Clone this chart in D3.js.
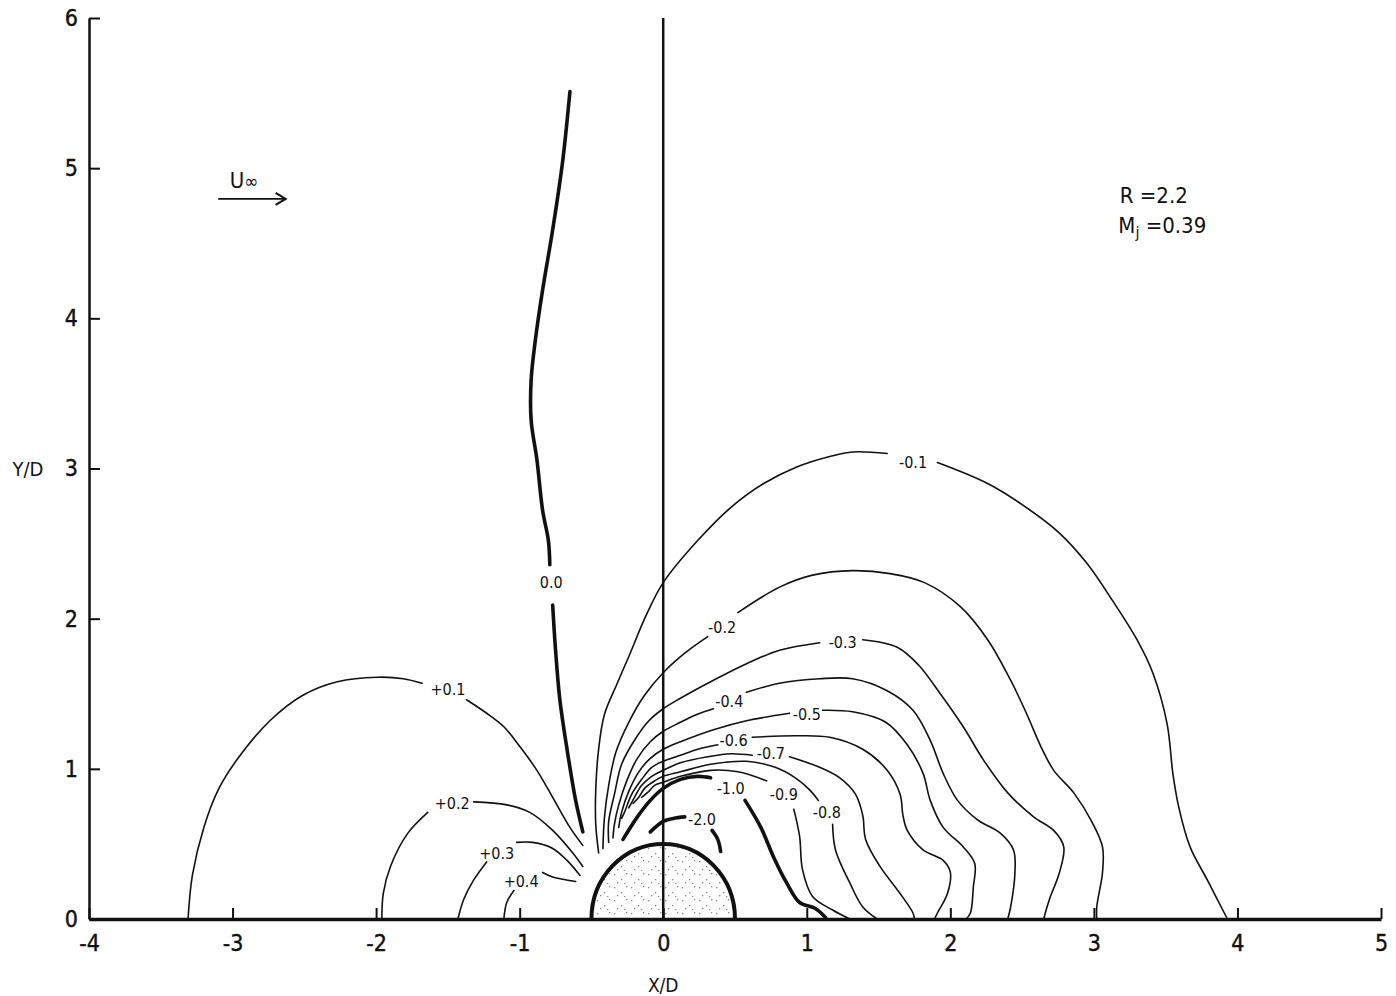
<!DOCTYPE html>
<html>
<head>
<meta charset="utf-8">
<script src="https://cdn.jsdelivr.net/npm/d3@7"></script>
<style>
  body { margin: 0; background: #fff; }
  svg { display: block; }
  text { font-family: "DejaVu Sans Condensed", "Liberation Sans Narrow", sans-serif; font-stretch: condensed; fill: #111; }
</style>
</head>
<body>
<svg id="chart" width="1396" height="996"></svg>
<script>
// axis ticks
const xTicks = [-4, -3, -2, -1, 0, 1, 2, 3, 4, 5];
const yTicks = [0, 1, 2, 3, 4, 5, 6];

// body (hemisphere) radius in X/D
const bodyRadius = 0.5;

// contour lines, each as segments (split where the label sits), in X/D, Y/D
const cZero = [
  [[-0.65,5.51],[-0.70,5.05],[-0.77,4.59],[-0.84,4.19],[-0.89,3.86],[-0.92,3.59],[-0.92,3.32],[-0.88,3.06],[-0.84,2.72],[-0.80,2.52],[-0.79,2.36]],
  [[-0.77,2.09],[-0.75,1.79],[-0.72,1.46],[-0.67,1.13],[-0.61,0.79],[-0.56,0.58]]
];
const cPos1 = [
  [[-3.31,0],[-3.28,0.29],[-3.20,0.61],[-3.10,0.86],[-2.97,1.06],[-2.74,1.32],[-2.51,1.49],[-2.27,1.58],[-1.99,1.61],[-1.81,1.60],[-1.68,1.57]],
  [[-1.37,1.46],[-1.23,1.37],[-1.11,1.28],[-1.00,1.15],[-0.88,0.99],[-0.77,0.81],[-0.65,0.61],[-0.56,0.49]]
];
const cPos2 = [
  [[-1.96,0],[-1.95,0.17],[-1.90,0.35],[-1.78,0.57],[-1.64,0.71]],
  [[-1.32,0.78],[-1.09,0.76],[-0.93,0.71],[-0.77,0.59],[-0.63,0.44],[-0.56,0.35]]
];
const cPos3 = [
  [[-1.43,0],[-1.39,0.13],[-1.32,0.26],[-1.23,0.38]],
  [[-1.02,0.51],[-0.91,0.51],[-0.77,0.47],[-0.67,0.39],[-0.58,0.29]]
];
const cPos4 = [
  [[-1.11,0],[-1.09,0.11],[-1.04,0.19]],
  [[-0.84,0.31],[-0.77,0.28],[-0.61,0.25]]
];
const cNeg1 = [
  [[-0.45,0.44],[-0.47,0.63],[-0.47,0.86],[-0.45,1.13],[-0.41,1.36],[-0.32,1.57],[-0.23,1.77],[-0.12,2.02],[0,2.24],[0.24,2.52],[0.47,2.74],[0.70,2.90],[0.93,3.01],[1.16,3.08],[1.32,3.11],[1.56,3.10]],
  [[1.91,3.04],[2.26,2.90],[2.53,2.74],[2.76,2.57],[2.95,2.37],[3.13,2.12],[3.30,1.86],[3.41,1.64],[3.51,1.30],[3.55,0.97],[3.59,0.75],[3.67,0.48],[3.79,0.26],[3.93,0]]
];
const cNeg2 = [
  [[-0.42,0.47],[-0.41,0.67],[-0.38,0.89],[-0.33,1.11],[-0.24,1.31],[-0.13,1.49],[0,1.64],[0.15,1.77],[0.31,1.88]],
  [[0.52,2.04],[0.81,2.21],[1.04,2.29],[1.32,2.32],[1.58,2.30],[1.82,2.24],[2.07,2.08],[2.26,1.86],[2.42,1.59],[2.53,1.37],[2.63,1.15],[2.72,0.99],[2.86,0.84],[2.99,0.64],[3.06,0.48],[3.06,0.31],[3.02,0.08],[3.02,0]]
];
const cNeg3 = [
  [[-0.38,0.51],[-0.38,0.65],[-0.34,0.83],[-0.29,1.03],[-0.20,1.19],[-0.10,1.32],[0,1.40],[0.12,1.47],[0.35,1.59],[0.58,1.70],[0.81,1.79],[1.09,1.84]],
  [[1.39,1.86],[1.63,1.81],[1.78,1.69],[1.93,1.50],[2.09,1.28],[2.23,1.06],[2.40,0.84],[2.58,0.68],[2.72,0.59],[2.79,0.48],[2.76,0.31],[2.69,0.13],[2.65,0]]
];
const cNeg4 = [
  [[-0.35,0.54],[-0.34,0.63],[-0.31,0.76],[-0.25,0.93],[-0.18,1.07],[-0.09,1.18],[0,1.25],[0.12,1.31],[0.23,1.36],[0.35,1.40]],
  [[0.58,1.51],[0.81,1.57],[1.09,1.60],[1.32,1.60],[1.56,1.52],[1.74,1.39],[1.86,1.19],[1.95,0.97],[2.05,0.79],[2.19,0.66],[2.35,0.57],[2.44,0.46],[2.45,0.31],[2.42,0.08],[2.40,0]]
];
const cNeg5 = [
  [[-0.31,0.61],[-0.29,0.71],[-0.24,0.85],[-0.17,0.98],[-0.09,1.07],[0,1.13],[0.12,1.18],[0.35,1.26],[0.58,1.32],[0.88,1.37]],
  [[1.11,1.39],[1.32,1.38],[1.55,1.31],[1.70,1.16],[1.81,0.97],[1.86,0.79],[1.95,0.61],[2.09,0.48],[2.17,0.37],[2.16,0.21],[2.14,0.04],[2.11,0]]
];
const cNeg6 = [
  [[-0.29,0.67],[-0.27,0.71],[-0.22,0.83],[-0.15,0.93],[-0.08,1.01],[0,1.05],[0.12,1.09],[0.24,1.13],[0.38,1.16]],
  [[0.62,1.21],[0.93,1.22],[1.16,1.21],[1.39,1.13],[1.56,0.99],[1.65,0.83],[1.67,0.69],[1.70,0.59],[1.81,0.46],[1.95,0.39],[2.00,0.31],[1.98,0.17],[1.91,0.04],[1.89,0]]
];
const cNeg7 = [
  [[-0.24,0.74],[-0.20,0.81],[-0.15,0.89],[-0.08,0.95],[0,0.99],[0.12,1.04],[0.31,1.08],[0.47,1.10],[0.62,1.09]],
  [[0.88,1.08],[1.09,1.01],[1.23,0.94],[1.34,0.83],[1.39,0.69],[1.41,0.53],[1.51,0.35],[1.65,0.17],[1.74,0.04],[1.75,0]]
];
const cNeg8 = [
  [[-0.21,0.77],[-0.17,0.81],[-0.13,0.87],[-0.06,0.92],[0,0.95],[0.12,0.98],[0.33,1.03],[0.58,1.05],[0.78,1.01],[0.92,0.94],[1.02,0.86],[1.08,0.79]],
  [[1.18,0.63],[1.20,0.46],[1.30,0.24],[1.39,0.08],[1.49,0]]
];
const cNeg9 = [
  [[-0.15,0.81],[-0.10,0.85],[-0.06,0.89],[0,0.91],[0.12,0.95],[0.33,0.99],[0.52,0.98],[0.72,0.92]],
  [[0.91,0.73],[0.95,0.55],[0.97,0.33],[1.04,0.15],[1.18,0.06],[1.30,0]]
];
const cNeg10 = [
  [[-0.28,0.53],[-0.18,0.68],[-0.09,0.79],[0,0.87],[0.12,0.93],[0.24,0.95],[0.33,0.94]],
  [[0.57,0.79],[0.68,0.61],[0.77,0.41],[0.86,0.24],[0.95,0.11],[1.06,0.07],[1.13,0.01]]
];
const cNeg20 = [
  [[-0.09,0.58],[0,0.65],[0.07,0.67],[0.15,0.68]],
  [[0.34,0.59],[0.38,0.53],[0.40,0.45]]
];

const contourLabels = ["0.0", "+0.1", "+0.2", "+0.3", "+0.4", "-0.1", "-0.2", "-0.3", "-0.4", "-0.5", "-0.6", "-0.7", "-0.8", "-0.9", "-1.0", "-2.0"];
const contourLines = [cZero, cPos1, cPos2, cPos3, cPos4, cNeg1, cNeg2, cNeg3, cNeg4, cNeg5, cNeg6, cNeg7, cNeg8, cNeg9, cNeg10, cNeg20];
const labelPos = [[-0.78,2.24],[-1.50,1.53],[-1.47,0.77],[-1.16,0.44],[-0.99,0.25],[1.74,3.04],[0.41,1.94],[1.25,1.84],[0.46,1.45],[1.00,1.36],[0.49,1.19],[0.75,1.10],[1.14,0.71],[0.84,0.83],[0.47,0.87],[0.27,0.66]];
const heavyLevels = ["0.0", "-1.0", "-2.0"];

const svg = d3.select("#chart");
const x = d3.scaleLinear().domain([-4, 5]).range([89, 1381]);
const y = d3.scaleLinear().domain([0, 6]).range([919, 18]);

// stipple pattern for the body
const defs = svg.append("defs");
const pat = defs.append("pattern")
  .attr("id", "stipple")
  .attr("patternUnits", "userSpaceOnUse")
  .attr("width", 17).attr("height", 13);
[[2,3],[9,8],[14,2],[5,11],[12,12]].forEach(p => {
  pat.append("rect").attr("x", p[0]).attr("y", p[1]).attr("width", 1.3).attr("height", 1.3).attr("fill", "#888");
});

const line = d3.line()
  .x(d => x(d[0]))
  .y(d => y(d[1]))
  .curve(d3.curveCatmullRom.alpha(0.5));

// body
const rx = x(bodyRadius) - x(0);
const ry = y(0) - y(bodyRadius);
svg.append("path")
  .attr("d", `M${x(-bodyRadius)},${y(0)} A${rx},${ry} 0 0 1 ${x(bodyRadius)},${y(0)} Z`)
  .attr("fill", "url(#stipple)")
  .attr("stroke", "none");
svg.append("path")
  .attr("d", `M${x(-bodyRadius)},${y(0)} A${rx},${ry} 0 0 1 ${x(bodyRadius)},${y(0)}`)
  .attr("fill", "none")
  .attr("stroke", "#111")
  .attr("stroke-width", 4);

// x = 0 line
svg.append("line")
  .attr("x1", x(0)).attr("x2", x(0))
  .attr("y1", y(0)).attr("y2", y(6))
  .attr("stroke", "#111").attr("stroke-width", 2.5);

// contours
const cg = svg.append("g").attr("fill", "none").attr("stroke", "#111").attr("stroke-linecap", "round");
contourLines.forEach((segs, i) => {
  const heavy = heavyLevels.includes(contourLabels[i]);
  segs.forEach(seg => {
    cg.append("path")
      .attr("d", line(seg))
      .attr("stroke-width", heavy ? 3.6 : 1.6);
  });
});

svg.append("g").selectAll("text")
  .data(contourLabels)
  .join("text")
  .attr("x", (d, i) => x(labelPos[i][0]))
  .attr("y", (d, i) => y(labelPos[i][1]))
  .attr("dy", "0.35em")
  .attr("text-anchor", "middle")
  .style("font-size", "16px")
  .text(d => d);

// axes
const yAxis = svg.append("g")
  .attr("transform", `translate(${x(-4)},0)`)
  .call(d3.axisLeft(y).tickValues(yTicks).tickFormat(d => String(d)).tickSizeInner(-11).tickSizeOuter(0).tickPadding(11));
yAxis.select(".domain").attr("stroke", "#111").attr("stroke-width", 2.5);
yAxis.selectAll(".tick line").attr("stroke", "#111").attr("stroke-width", 2);
yAxis.selectAll(".tick text").style("font-size", "23px").attr("fill", "#111")
  .attr("stroke", "#111").attr("stroke-width", 0.4);

const xAxis = svg.append("g")
  .attr("transform", `translate(0,${y(0)})`)
  .call(d3.axisBottom(x).tickValues(xTicks).tickFormat(d => String(d)).tickSizeInner(-11).tickSizeOuter(0).tickPadding(16));
xAxis.select(".domain").attr("stroke", "#111").attr("stroke-width", 3.5);
xAxis.selectAll(".tick line").attr("stroke", "#111").attr("stroke-width", 2);
xAxis.selectAll(".tick text").style("font-size", "23px").attr("fill", "#111")
  .attr("stroke", "#111").attr("stroke-width", 0.4);

// axis titles
svg.append("text")
  .attr("x", 28).attr("y", y(3)).attr("dy", "0.35em")
  .attr("text-anchor", "middle")
  .style("font-size", "20px")
  .text("Y/D");
svg.append("text")
  .attr("x", x(0)).attr("y", 985)
  .attr("dy", "0.35em")
  .attr("text-anchor", "middle")
  .style("font-size", "19px")
  .text("X/D");

// free stream arrow
const uinf = svg.append("text")
  .attr("x", x(-3.02)).attr("y", y(4.87))
  .style("font-size", "22px");
uinf.append("tspan").text("U");
uinf.append("tspan").style("font-size", "19px").text("∞");
svg.append("line")
  .attr("x1", x(-3.1)).attr("x2", x(-2.63))
  .attr("y1", y(4.795)).attr("y2", y(4.795))
  .attr("stroke", "#111").attr("stroke-width", 1.8);
svg.append("path")
  .attr("d", `M${x(-2.7)},${y(4.795) - 6} L${x(-2.63)},${y(4.795)} L${x(-2.7)},${y(4.795) + 6}`)
  .attr("fill", "none").attr("stroke", "#111").attr("stroke-width", 2);

// run parameters
const note = svg.append("g").style("font-size", "22px");
note.append("text")
  .attr("x", x(3.18)).attr("y", y(4.77))
  .text("R =2.2");
const mj = note.append("text")
  .attr("x", x(3.17)).attr("y", y(4.57));
mj.append("tspan").text("M");
mj.append("tspan").attr("dy", 5).style("font-size", "16px").text("j");
mj.append("tspan").attr("dy", -5).text(" =0.39");
</script>
</body>
</html>
